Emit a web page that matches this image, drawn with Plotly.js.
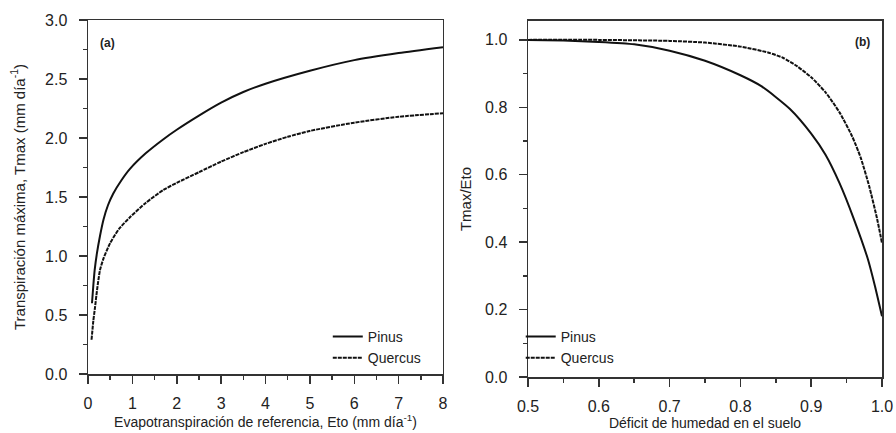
<!DOCTYPE html>
<html>
<head>
<meta charset="utf-8">
<script src="https://cdn.plot.ly/plotly-3.0.1.min.js"></script>
<style>html,body{margin:0;padding:0;background:#fff;}#chart{width:896px;height:433px;}</style>
</head>
<body>
<div id="chart"></div>
<script>
// Panel (a): Tmax vs Eto
const etoPinus   = [0.09, 0.12, 0.15, 0.2, 0.27, 0.35, 0.45, 0.57, 0.75, 0.95, 1.3, 1.7, 2.0, 2.5, 3.0, 3.5, 4.0, 5.0, 6.0, 7.0, 8.0];
const tmaxPinus  = [0.60, 0.75, 0.88, 1.02, 1.17, 1.31, 1.43, 1.53, 1.64, 1.74, 1.87, 1.99, 2.07, 2.19, 2.30, 2.39, 2.46, 2.57, 2.66, 2.72, 2.77];
const etoQuercus = [0.08, 0.12, 0.16, 0.2, 0.27, 0.35, 0.5, 0.7, 0.95, 1.3, 1.7, 2.0, 2.5, 3.0, 3.5, 4.0, 4.5, 5.0, 6.0, 7.0, 8.0];
const tmaxQuercus= [0.29, 0.45, 0.57, 0.70, 0.88, 0.98, 1.11, 1.23, 1.33, 1.45, 1.56, 1.62, 1.71, 1.80, 1.88, 1.95, 2.01, 2.06, 2.13, 2.18, 2.21];

// Panel (b): Tmax/Eto vs soil moisture deficit
const defPinus   = [0.50, 0.55, 0.60, 0.65, 0.70, 0.75, 0.80, 0.83, 0.87, 0.90, 0.92, 0.94, 0.96, 0.98, 0.99, 1.00];
const ratioPinus = [1.000, 0.998, 0.994, 0.987, 0.968, 0.938, 0.895, 0.862, 0.795, 0.722, 0.660, 0.575, 0.470, 0.350, 0.270, 0.180];
const defQuercus = [0.50, 0.60, 0.70, 0.75, 0.80, 0.84, 0.86, 0.88, 0.90, 0.92, 0.94, 0.958, 0.97, 0.982, 0.993, 1.00];
const ratioQuercus=[1.000, 1.000, 0.997, 0.992, 0.980, 0.962, 0.947, 0.922, 0.889, 0.845, 0.785, 0.713, 0.650, 0.565, 0.470, 0.397];

const seriesNames = ['Pinus', 'Quercus'];
const panelLabels = ['(a)', '(b)'];

const ink = '#111';
const lineP = {color: ink, width: 2, shape: 'spline', smoothing: 0.6};
const lineQ = {color: ink, width: 2, dash: '4px,1px', shape: 'spline', smoothing: 0.6};

const traces = [
  {x: etoPinus, y: tmaxPinus, name: seriesNames[0], mode: 'lines', line: lineP, xaxis: 'x', yaxis: 'y', legend: 'legend'},
  {x: etoQuercus, y: tmaxQuercus, name: seriesNames[1], mode: 'lines', line: lineQ, xaxis: 'x', yaxis: 'y', legend: 'legend'},
  {x: defPinus, y: ratioPinus, name: seriesNames[0], mode: 'lines', line: lineP, xaxis: 'x2', yaxis: 'y2', legend: 'legend2'},
  {x: defQuercus, y: ratioQuercus, name: seriesNames[1], mode: 'lines', line: lineQ, xaxis: 'x2', yaxis: 'y2', legend: 'legend2'}
];

const font = {family: 'Liberation Sans, Arial, sans-serif', color: '#222'};
function minor(t0, dt) {
  return {ticks: 'outside', ticklen: 4, tickwidth: 1.5, tickcolor: '#333', tickmode: 'linear', tick0: t0, dtick: dt, showgrid: false};
}
function ax(extra) {
  return Object.assign({
    showgrid: false, zeroline: false, showline: true, mirror: true,
    linecolor: '#333', linewidth: 1.5,
    ticks: 'outside', ticklen: 8, tickwidth: 1.5, tickcolor: '#333', tickmode: 'linear',
    tickfont: {family: font.family, size: 16, color: '#222'},
    automargin: false, fixedrange: true
  }, extra);
}

const layout = {
  width: 896, height: 433,
  margin: {l: 88, r: 14, t: 20, b: 56},
  paper_bgcolor: '#fff', plot_bgcolor: '#fff',
  font: font,
  xaxis: ax({domain: [0, 0.4471], range: [0, 8], dtick: 1, tick0: 0, ticklabelstandoff: 6,
    minor: minor(0, 0.5),
    title: {text: 'Evapotranspiración de referencia, Eto (mm día<sup>-1</sup>)', font: {size: 14, color: '#222'}, standoff: 4}}),
  yaxis: ax({domain: [0.0084, 1], range: [0, 3], dtick: 0.5, tick0: 0, tickformat: '.1f', ticklabelstandoff: 8,
    minor: minor(0, 0.25),
    title: {text: 'Transpiración máxima, Tmax (mm día<sup>-1</sup>)', font: {size: 15, color: '#222'}, standoff: 16}}),
  xaxis2: ax({domain: [0.5542, 1], range: [0.5, 1.0], dtick: 0.1, tick0: 0.5, tickformat: '.1f', anchor: 'y2', ticklabelstandoff: 6,
    minor: minor(0.5, 0.05),
    title: {text: 'Déficit de humedad en el suelo', font: {size: 14, color: '#222'}, standoff: 4}}),
  yaxis2: ax({domain: [0, 0.9972], range: [0, 1.056], dtick: 0.2, tick0: 0, tickformat: '.1f', anchor: 'x2', ticklabelstandoff: 8,
    minor: minor(0, 0.1),
    title: {text: 'Tmax/Eto', font: {size: 15, color: '#222'}, standoff: 10}}),
  legend: {x: 0.302, xanchor: 'left', y: 0.157, yanchor: 'top', bgcolor: 'rgba(0,0,0,0)',
    font: {size: 14, color: '#222'}, itemwidth: 30, tracegroupgap: 0},
  legend2: {x: 0.545, xanchor: 'left', y: 0.157, yanchor: 'top', bgcolor: 'rgba(0,0,0,0)',
    font: {size: 14, color: '#222'}, itemwidth: 30, tracegroupgap: 0},
  showlegend: true,
  annotations: [
    {text: '<b>' + panelLabels[0] + '</b>', xref: 'paper', yref: 'paper', x: 0.024, y: 0.936, xanchor: 'center', yanchor: 'middle', showarrow: false, font: {size: 12, color: '#222'}},
    {text: '<b>' + panelLabels[1] + '</b>', xref: 'paper', yref: 'paper', x: 0.975, y: 0.938, xanchor: 'center', yanchor: 'middle', showarrow: false, font: {size: 12, color: '#222'}}
  ]
};

Plotly.newPlot('chart', traces, layout, {displayModeBar: false, staticPlot: true});
</script>
</body>
</html>
